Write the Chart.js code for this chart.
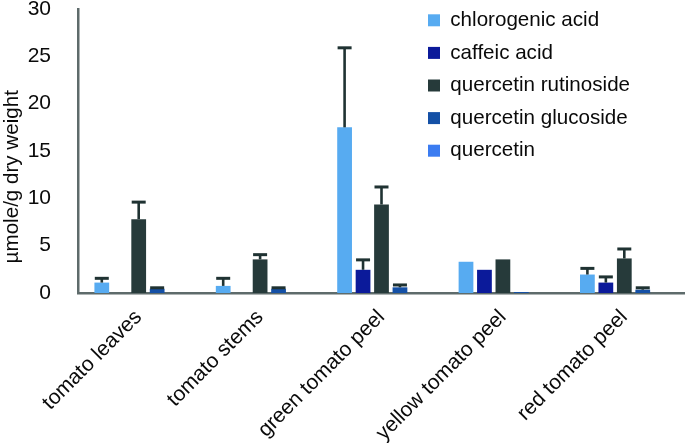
<!DOCTYPE html>
<html>
<head>
<meta charset="utf-8">
<script src="https://cdn.jsdelivr.net/npm/chart.js@4.4.1/dist/chart.umd.min.js"></script>
<style>
  html, body { margin: 0; padding: 0; background: #fff; }
  canvas { display: block; }
</style>
</head>
<body>
<canvas id="chart" width="685" height="443"></canvas>
<script>
// Data
const categories = ['tomato leaves', 'tomato stems', 'green tomato peel', 'yellow tomato peel', 'red tomato peel'];

const chlorogenic = [1.1, 0.75, 17.5, 3.3, 1.95];
const chlorogenicErr = [0.45, 0.8, 8.4, 0, 0.65];

const caffeic = [0, 0, 2.45, 2.45, 1.1];
const caffeicErr = [0, 0, 1.05, 0, 0.6];

const rutinoside = [7.8, 3.55, 9.35, 3.55, 3.65];
const rutinosideErr = [1.8, 0.5, 1.85, 0, 1.0];

const glucoside = [0.45, 0.45, 0.6, 0.1, 0.35];
const glucosideErr = [0.1, 0.1, 0.25, 0, 0.2];

const quercetin = [0, 0, 0, 0, 0];
const quercetinErr = [0, 0, 0, 0, 0];

const yTicks = [0, 5, 10, 15, 20, 25, 30];

const FONT = "'Liberation Sans', Arial, Helvetica, sans-serif";
const AXIS_COLOR = '#5e6b6b';
const ERR_COLOR = '#1f3232';

function makeSet(label, data, errors, color) {
    return {
        label: label,
        data: data,
        errors: errors,
        backgroundColor: color,
        borderWidth: 0,
        categoryPercentage: 0.76,
        barPercentage: 0.8
    };
}

// draws the upper error bars using the chart's own scales
const errorBars = {
    id: 'errorBars',
    afterDatasetsDraw(chart) {
        const ctx = chart.ctx;
        const yScale = chart.scales.y;
        ctx.save();
        ctx.strokeStyle = ERR_COLOR;
        chart.data.datasets.forEach((ds, i) => {
            const meta = chart.getDatasetMeta(i);
            ds.errors.forEach((err, j) => {
                if (!err) return;
                const bar = meta.data[j];
                const top = yScale.getPixelForValue(ds.data[j]);
                const end = yScale.getPixelForValue(ds.data[j] + err);
                ctx.lineWidth = 2.6;
                ctx.beginPath();
                ctx.moveTo(bar.x, top);
                ctx.lineTo(bar.x, end);
                ctx.stroke();
                ctx.lineWidth = 3;
                ctx.beginPath();
                ctx.moveTo(bar.x - 7, end);
                ctx.lineTo(bar.x + 7, end);
                ctx.stroke();
            });
        });
        ctx.restore();
    }
};

// put the legend in the upper right corner, over the plot
const legendSpot = {
    id: 'legendSpot',
    afterLayout(chart) {
        chart.legend.left = 416;
        chart.legend.top = -2;
    }
};

new Chart(document.getElementById('chart'), {
    type: 'bar',
    data: {
        labels: categories,
        datasets: [
            makeSet('chlorogenic acid', chlorogenic, chlorogenicErr, '#57abf1'),
            makeSet('caffeic acid', caffeic, caffeicErr, '#0b1a9a'),
            makeSet('quercetin rutinoside', rutinoside, rutinosideErr, '#263a3a'),
            makeSet('quercetin glucoside', glucoside, glucosideErr, '#1450a6'),
            makeSet('quercetin', quercetin, quercetinErr, '#3b7cf1')
        ]
    },
    options: {
        responsive: false,
        animation: false,
        devicePixelRatio: 1,
        layout: { padding: { top: 9, left: 0, right: 0, bottom: 0 } },
        plugins: {
            legend: {
                position: 'chartArea',
                align: 'start',
                labels: {
                    boxWidth: 12,
                    boxHeight: 12,
                    padding: 12,
                    color: '#0a0a0a',
                    font: { family: FONT, size: 20.6 }
                }
            },
            tooltip: { enabled: false }
        },
        scales: {
            x: {
                grid: { display: false },
                border: { display: true, color: AXIS_COLOR, width: 2.5 },
                ticks: {
                    autoSkip: false,
                    minRotation: 45,
                    maxRotation: 45,
                    padding: 4,
                    color: '#0a0a0a',
                    font: { family: FONT, size: 21 }
                },
                afterFit(scale) {
                    scale.height = 150;
                    scale.paddingLeft = 0;
                    scale.paddingRight = 0;
                }
            },
            y: {
                min: 0,
                max: 30,
                grid: { display: false },
                border: { display: true, color: AXIS_COLOR, width: 2.5 },
                afterBuildTicks(scale) {
                    scale.ticks = yTicks.map(v => ({ value: v }));
                },
                ticks: {
                    padding: 19,
                    color: '#0a0a0a',
                    font: { family: FONT, size: 21 }
                },
                title: {
                    display: true,
                    text: 'µmole/g dry weight         ',
                    color: '#0a0a0a',
                    padding: 0,
                    font: { family: FONT, size: 20.6 }
                },
                afterFit(scale) {
                    scale.width = 78;
                    scale.paddingTop = 0;
                    scale.paddingBottom = 0;
                }
            }
        }
    },
    plugins: [errorBars, legendSpot]
});
</script>
</body>
</html>
